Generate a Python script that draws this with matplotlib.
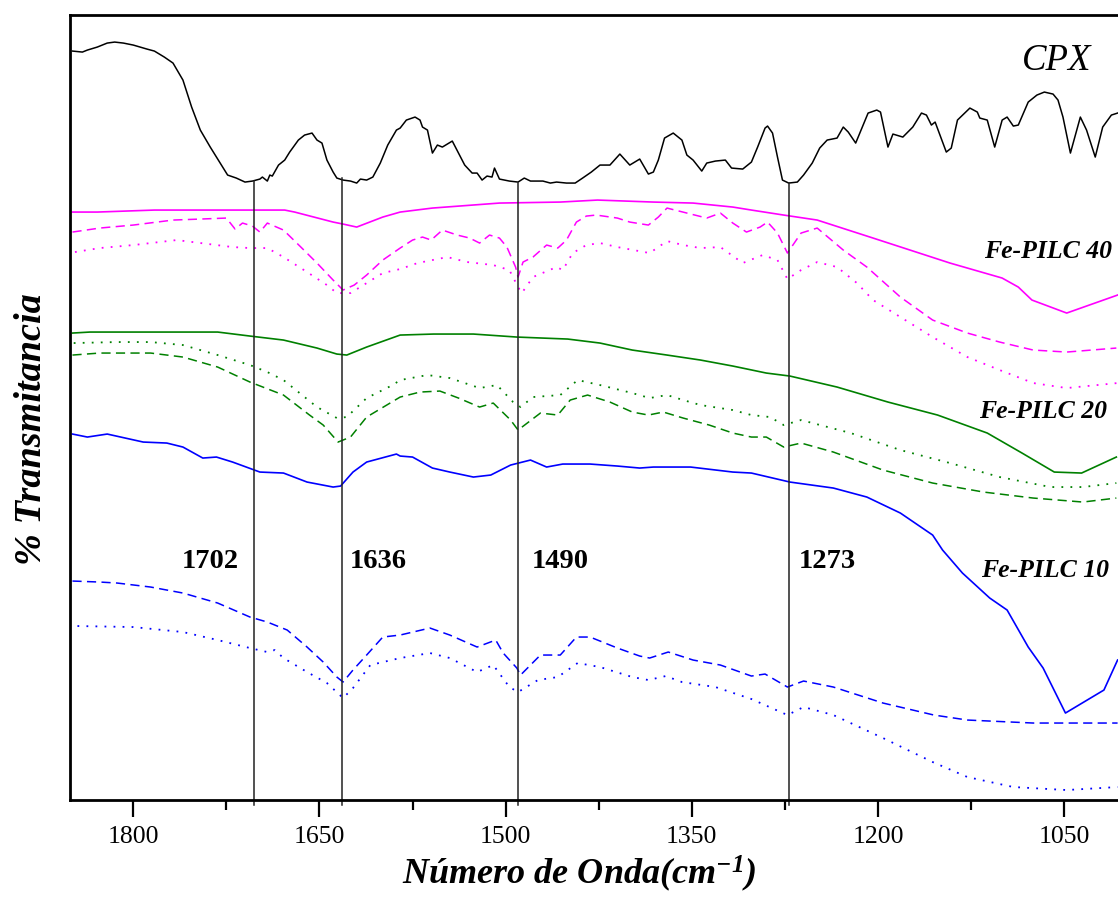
import matplotlib
matplotlib.use("Agg")
import matplotlib.pyplot as plt
import numpy as np

plt.rcParams["font.family"] = ["Liberation Serif", "DejaVu Serif"]
plt.rcParams["mathtext.fontset"] = "custom"
plt.rcParams["mathtext.rm"] = "Liberation Serif:bold:italic"
plt.rcParams["mathtext.it"] = "Liberation Serif:bold:italic"
plt.rcParams["mathtext.bf"] = "Liberation Serif:bold:italic"

# spectra: (wavenumber cm-1, transmittance, arbitrary offset units)
CPX = np.array([
    (1849, 749), (1841, 748), (1837, 750), (1829, 753), (1821, 757), (1815, 758), (1808, 757),
    (1800, 755), (1789, 751), (1783, 749), (1775, 743), (1768, 737), (1760, 720), (1753, 693),
    (1746, 670), (1738, 653), (1730, 637), (1724, 625), (1717, 622), (1710, 618), (1704, 619),
    (1698, 621), (1696, 623), (1692, 619), (1690, 625), (1688, 624), (1683, 635), (1678, 640),
    (1674, 648), (1667, 660), (1662, 665), (1656, 667), (1652, 660), (1648, 657), (1644, 640),
    (1639, 628), (1636, 622), (1631, 620), (1625, 619), (1620, 617), (1617, 621), (1612, 620),
    (1607, 623), (1601, 637), (1595, 655), (1588, 670), (1585, 672), (1580, 680), (1573, 683),
    (1569, 680), (1567, 673), (1563, 670), (1559, 647), (1555, 655), (1551, 653), (1543, 659),
    (1538, 647), (1533, 635), (1527, 627), (1523, 627), (1519, 620), (1515, 624), (1511, 623),
    (1509, 632), (1505, 621), (1497, 619), (1490, 618), (1485, 622), (1480, 619), (1470, 619),
    (1464, 617), (1459, 618), (1451, 617), (1444, 617), (1438, 622), (1431, 628), (1424, 635),
    (1416, 635), (1408, 646), (1400, 635), (1392, 641), (1385, 626), (1381, 628), (1377, 640),
    (1372, 662), (1365, 667), (1358, 660), (1354, 645), (1349, 640), (1342, 629), (1338, 637),
    (1331, 639), (1323, 640), (1318, 632), (1309, 631), (1302, 638), (1297, 653), (1291, 672),
    (1289, 674), (1285, 667), (1281, 643), (1277, 620), (1272, 617), (1265, 618), (1260, 625),
    (1253, 637), (1247, 652), (1241, 660), (1233, 662), (1228, 673), (1224, 668), (1218, 657),
    (1213, 672), (1208, 687), (1201, 690), (1198, 688), (1192, 653), (1188, 666), (1180, 663),
    (1172, 673), (1165, 687), (1161, 685), (1157, 675), (1154, 678), (1145, 648), (1141, 652),
    (1136, 680), (1126, 692), (1120, 688), (1118, 682), (1112, 680), (1106, 653), (1100, 680),
    (1096, 683), (1091, 674), (1087, 675), (1079, 698), (1072, 705), (1066, 708), (1059, 706),
    (1055, 700), (1051, 683), (1045, 647), (1037, 683), (1032, 670), (1025, 643), (1019, 673),
    (1012, 685), (1007, 687)])

PILC40_a = np.array([
    (1849, 588), (1829, 588), (1783, 590), (1678, 590), (1670, 588), (1639, 578), (1631, 576),
    (1620, 573), (1599, 583), (1585, 588), (1559, 592), (1505, 597), (1456, 598), (1426, 600),
    (1381, 598), (1349, 597), (1317, 593), (1302, 590), (1276, 585), (1249, 580), (1204, 562),
    (1142, 537), (1100, 522), (1087, 513), (1076, 500), (1048, 487), (1007, 505)])
PILC40_b = np.array([
    (1849, 568), (1827, 572), (1800, 575), (1768, 580), (1746, 581), (1725, 582), (1718, 571),
    (1712, 577), (1704, 574), (1698, 568), (1692, 577), (1679, 570), (1665, 553), (1652, 537),
    (1639, 520), (1631, 510), (1622, 515), (1612, 525), (1599, 540), (1585, 552), (1575, 560),
    (1567, 563), (1560, 560), (1551, 570), (1539, 565), (1529, 562), (1521, 557), (1513, 565),
    (1505, 562), (1499, 553), (1492, 533), (1490, 523), (1486, 538), (1478, 543), (1467, 555),
    (1458, 552), (1451, 560), (1443, 578), (1435, 584), (1427, 585), (1410, 582), (1400, 578),
    (1385, 575), (1377, 583), (1370, 592), (1354, 587), (1338, 582), (1327, 587), (1317, 577),
    (1306, 568), (1295, 573), (1289, 578), (1281, 567), (1273, 547), (1262, 567), (1249, 572),
    (1228, 550), (1209, 533), (1182, 503), (1156, 480), (1128, 467), (1102, 458), (1075, 450),
    (1048, 448), (1008, 452)])
PILC40_c = np.array([
    (1847, 548), (1827, 552), (1800, 555), (1765, 560), (1720, 553), (1706, 552), (1692, 552),
    (1679, 543), (1660, 528), (1644, 515), (1636, 507), (1625, 507), (1612, 517), (1599, 527),
    (1585, 531), (1571, 537), (1547, 543), (1531, 538), (1510, 535), (1497, 530), (1490, 513),
    (1487, 507), (1478, 523), (1459, 533), (1454, 530), (1446, 547), (1435, 555), (1424, 557),
    (1410, 553), (1384, 547), (1370, 559), (1357, 555), (1343, 552), (1327, 553), (1309, 537),
    (1293, 545), (1281, 540), (1273, 521), (1262, 530), (1249, 538), (1233, 533), (1217, 517),
    (1204, 500), (1182, 483), (1156, 463), (1128, 443), (1102, 430), (1075, 417), (1048, 412),
    (1007, 417)])

PILC20_a = np.array([
    (1849, 467), (1835, 468), (1732, 468), (1706, 464), (1679, 460), (1652, 452), (1636, 446),
    (1628, 445), (1612, 453), (1585, 465), (1558, 466), (1526, 466), (1491, 463), (1450, 461),
    (1424, 457), (1398, 450), (1370, 445), (1343, 440), (1317, 434), (1290, 427), (1271, 424),
    (1233, 413), (1192, 398), (1152, 385), (1112, 367), (1084, 347), (1058, 328), (1036, 327),
    (1008, 343)])
PILC20_b = np.array([
    (1848, 457), (1813, 458), (1786, 458), (1760, 455), (1732, 445), (1706, 435), (1692, 428),
    (1679, 420), (1666, 407), (1652, 393), (1636, 382), (1628, 383), (1612, 402), (1591, 415),
    (1585, 420), (1563, 425), (1545, 422), (1521, 412), (1507, 415), (1494, 398), (1488, 393),
    (1478, 403), (1456, 405), (1442, 420), (1424, 415), (1398, 407), (1384, 402), (1370, 405),
    (1357, 400), (1343, 395), (1317, 390), (1302, 385), (1287, 383), (1276, 375), (1262, 380),
    (1222, 367), (1182, 350), (1142, 337), (1102, 323), (1061, 313), (1035, 313), (1008, 317)])
PILC20_c = np.array([
    (1849, 445), (1827, 447), (1786, 447), (1760, 443), (1732, 433), (1706, 418), (1679, 405),
    (1658, 385), (1647, 375), (1635, 358), (1625, 363), (1612, 383), (1585, 403), (1569, 408),
    (1553, 409), (1538, 402), (1521, 393), (1510, 397), (1496, 380), (1490, 370), (1472, 387),
    (1458, 385), (1448, 400), (1434, 405), (1416, 398), (1398, 388), (1385, 385), (1373, 388),
    (1357, 382), (1336, 375), (1317, 367), (1302, 363), (1290, 363), (1276, 353), (1262, 357),
    (1236, 348), (1196, 330), (1156, 317), (1115, 308), (1075, 302), (1035, 298), (1008, 302)])

PILC10_a = np.array([
    (1849, 366), (1837, 363), (1821, 366), (1792, 358), (1773, 357), (1760, 353), (1744, 342),
    (1733, 343), (1720, 338), (1698, 328), (1679, 327), (1660, 318), (1639, 313), (1633, 314),
    (1623, 328), (1612, 338), (1588, 346), (1585, 344), (1575, 343), (1559, 332), (1545, 328),
    (1526, 323), (1512, 325), (1496, 335), (1480, 340), (1467, 333), (1454, 336), (1432, 336),
    (1410, 334), (1392, 332), (1381, 333), (1351, 333), (1317, 328), (1302, 327), (1271, 318),
    (1236, 312), (1209, 303), (1182, 287), (1156, 265), (1148, 250), (1132, 227), (1110, 202),
    (1096, 190), (1079, 153), (1067, 132), (1049, 87), (1018, 110), (1007, 140)])
PILC10_b = np.array([
    (1849, 219), (1827, 218), (1813, 217), (1786, 213), (1760, 207), (1732, 197), (1706, 183),
    (1692, 178), (1676, 170), (1660, 153), (1647, 138), (1636, 123), (1631, 118), (1623, 130),
    (1612, 145), (1599, 163), (1585, 165), (1561, 172), (1545, 165), (1523, 153), (1508, 160),
    (1502, 147), (1491, 132), (1488, 125), (1472, 145), (1456, 145), (1443, 163), (1432, 163),
    (1410, 152), (1392, 144), (1384, 142), (1369, 148), (1349, 140), (1327, 135), (1302, 124),
    (1291, 126), (1273, 113), (1260, 119), (1236, 113), (1196, 97), (1155, 85), (1128, 80),
    (1075, 77), (1048, 77), (1007, 77)])
PILC10_c = np.array([
    (1845, 174), (1800, 173), (1760, 168), (1732, 160), (1706, 152), (1692, 148), (1686, 150),
    (1679, 142), (1660, 128), (1644, 117), (1631, 102), (1623, 112), (1609, 135), (1585, 142),
    (1561, 147), (1545, 142), (1523, 128), (1510, 135), (1497, 113), (1490, 108), (1474, 120),
    (1458, 123), (1442, 137), (1424, 133), (1398, 123), (1385, 120), (1371, 124), (1358, 118),
    (1331, 113), (1302, 101), (1273, 85), (1260, 93), (1236, 85), (1196, 62), (1156, 38),
    (1128, 23), (1091, 13), (1048, 10), (1007, 13)])

peak_lines = [1703, 1632, 1490, 1272]
peak_tops = [619, 622, 617, 617]
peak_labels = ["1702", "1636", "1490", "1273"]
peak_label_x = [1761, 1626, 1479, 1264]

fig = plt.figure(figsize=(11.18, 8.97), dpi=100)
ax = fig.add_axes([0.0626, 0.1081, 0.9448, 0.8751])

ax.plot(CPX[:, 0], CPX[:, 1], color="black", lw=1.1)

dash = (0, (6, 3.5))
dot = (0, (1, 4))
for data, col in [(PILC40_a, "#ff00ff"), (PILC20_a, "#008000"), (PILC10_a, "#0000ff")]:
    ax.plot(data[:, 0], data[:, 1], color=col, lw=1.2)
for data, col in [(PILC40_b, "#ff00ff"), (PILC20_c, "#008000"), (PILC10_b, "#0000ff")]:
    ax.plot(data[:, 0], data[:, 1], color=col, lw=1.1, linestyle=dash)
for data, col in [(PILC40_c, "#ff00ff"), (PILC20_b, "#008000"), (PILC10_c, "#0000ff")]:
    ax.plot(data[:, 0], data[:, 1], color=col, lw=1.3, linestyle=dot)

for xl, top in zip(peak_lines, peak_tops):
    ax.plot([xl, xl], [top, -5], color="#222222", lw=1.1, clip_on=False)

for lab, xl in zip(peak_labels, peak_label_x):
    ax.text(xl, 232, lab, fontsize=20.5, fontweight="bold", va="baseline", ha="left")

ax.text(1084, 730, "CPX", fontsize=26.5, fontstyle="italic", va="baseline", ha="left")
ax.text(1115, 542, "Fe-PILC 40", fontsize=18.5, fontstyle="italic", fontweight="bold",
        va="baseline", ha="left")
ax.text(1119, 382, "Fe-PILC 20", fontsize=18.5, fontstyle="italic", fontweight="bold",
        va="baseline", ha="left")
ax.text(1117, 223, "Fe-PILC 10", fontsize=18.5, fontstyle="italic", fontweight="bold",
        va="baseline", ha="left")

ax.set_xlim(1851, 1000)
ax.set_ylim(0, 785)
ax.set_xticks([1800, 1650, 1500, 1350, 1200, 1050])
ax.set_xticks([1725, 1575, 1425, 1275, 1125], minor=True)
ax.set_yticks([])
ax.tick_params(axis="x", which="major", direction="out", length=12, width=1.6,
               labelsize=18.5, pad=7)
ax.tick_params(axis="x", which="minor", direction="out", length=7, width=1.6)
for s in ax.spines.values():
    s.set_linewidth(2.0)

fig.text(0.518, 0.014, r"Número de Onda(cm$^{-1}$)", fontsize=26, fontstyle="italic",
         fontweight="bold", ha="center", va="baseline")
fig.text(0.028, 0.522, "% Transmitancia", fontsize=27.5, fontstyle="italic",
         fontweight="bold", rotation=90, ha="center", va="center")

fig.savefig("out.png", dpi=100)
